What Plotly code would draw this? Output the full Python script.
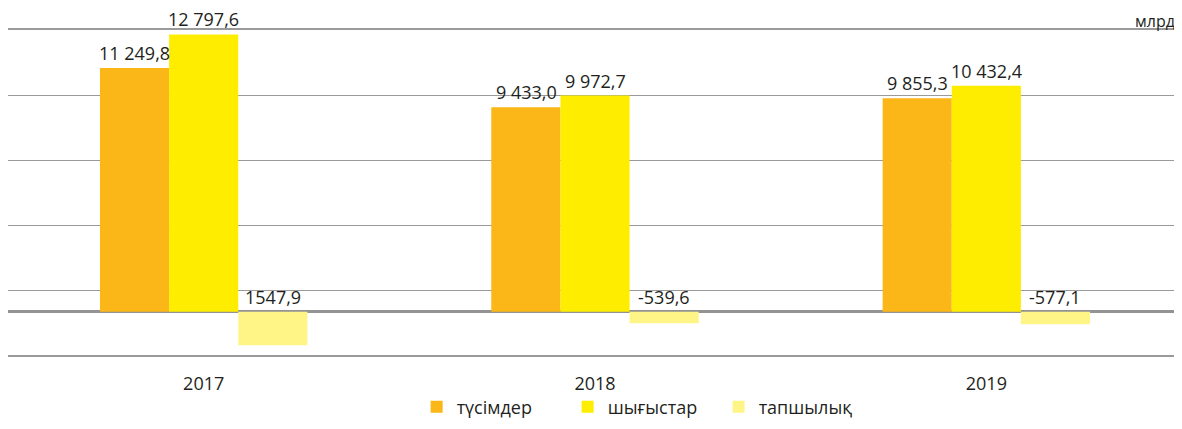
import plotly.graph_objects as go

years = ['2017', '2018', '2019']
revenue = [11249.8, 9433.0, 9855.3]
expenses = [12797.6, 9972.7, 10432.4]
deficit = [-1547.9, -539.6, -577.1]

revenue_labels = ['11 249,8', '9 433,0', '9 855,3']
expenses_labels = ['12 797,6', '9 972,7', '10 432,4']
deficit_labels = ['1547,9', '-539,6', '-577,1']

names = ['түсімдер', 'шығыстар', 'тапшылық']
colors = ['#FBB617', '#FFED00', '#FFF587']

FONT = 'Open Sans'
TXT = '#231F20'
BAR_PX = 69  # one bar width in pixels, used to shift labels over their bar

fig = go.Figure()
for vals, name, col in zip([revenue, expenses, deficit], names, colors):
    fig.add_trace(go.Bar(x=years, y=vals, name=name, marker_color=col, marker_line_width=0))

# value labels, negative bars get theirs above the zero line
series = [(revenue, revenue_labels, -BAR_PX), (expenses, expenses_labels, 0),
          (deficit, deficit_labels, BAR_PX)]
for vals, labels, shift in series:
    for i, (v, lab) in enumerate(zip(vals, labels)):
        fig.add_annotation(x=i, y=max(v, 0), text=lab, showarrow=False, xref='x', yref='y',
                           yanchor='bottom', xshift=shift, yshift=1,
                           font=dict(family=FONT, size=18, color=TXT))

fig.add_annotation(x=1, y=1, xref='paper', yref='paper', text='млрд.', showarrow=False,
                   xanchor='right', yanchor='top', xshift=-1, yshift=22,
                   font=dict(family=FONT, size=16, color=TXT))

# page body adds 8px around the figure, so the figure is 16px smaller than the window
fig.update_layout(
    width=1174, height=413,
    margin=dict(l=0, r=0, t=22, b=66),
    plot_bgcolor='white', paper_bgcolor='white',
    barmode='group', bargap=0.47, bargroupgap=0,
    font=dict(family=FONT, size=18, color=TXT),
    showlegend=True,
    legend=dict(orientation='h', x=0.541, xanchor='center', xref='paper',
                y=0.034, yanchor='middle', yref='container', bgcolor='rgba(0,0,0,0)',
                font=dict(family=FONT, size=18, color=TXT), entrywidth=106),
)
fig.update_xaxes(type='category', automargin=False, showline=True, linecolor='#9A9A9A',
                 linewidth=2, mirror=True,
                 ticks='outside', ticklen=11, tickcolor='rgba(0,0,0,0)',
                 tickfont=dict(family=FONT, size=18, color=TXT),
                 range=[-0.5, 2.5])
fig.update_yaxes(range=[-2000, 13000], tick0=-2000, dtick=3000, showticklabels=False,
                 automargin=False, showgrid=True, gridcolor='#9A9A9A', gridwidth=1,
                 zeroline=True, zerolinecolor='#939393', zerolinewidth=3,
                 showline=True, linecolor='#9A9A9A', linewidth=2)

fig.write_html('out.html')
